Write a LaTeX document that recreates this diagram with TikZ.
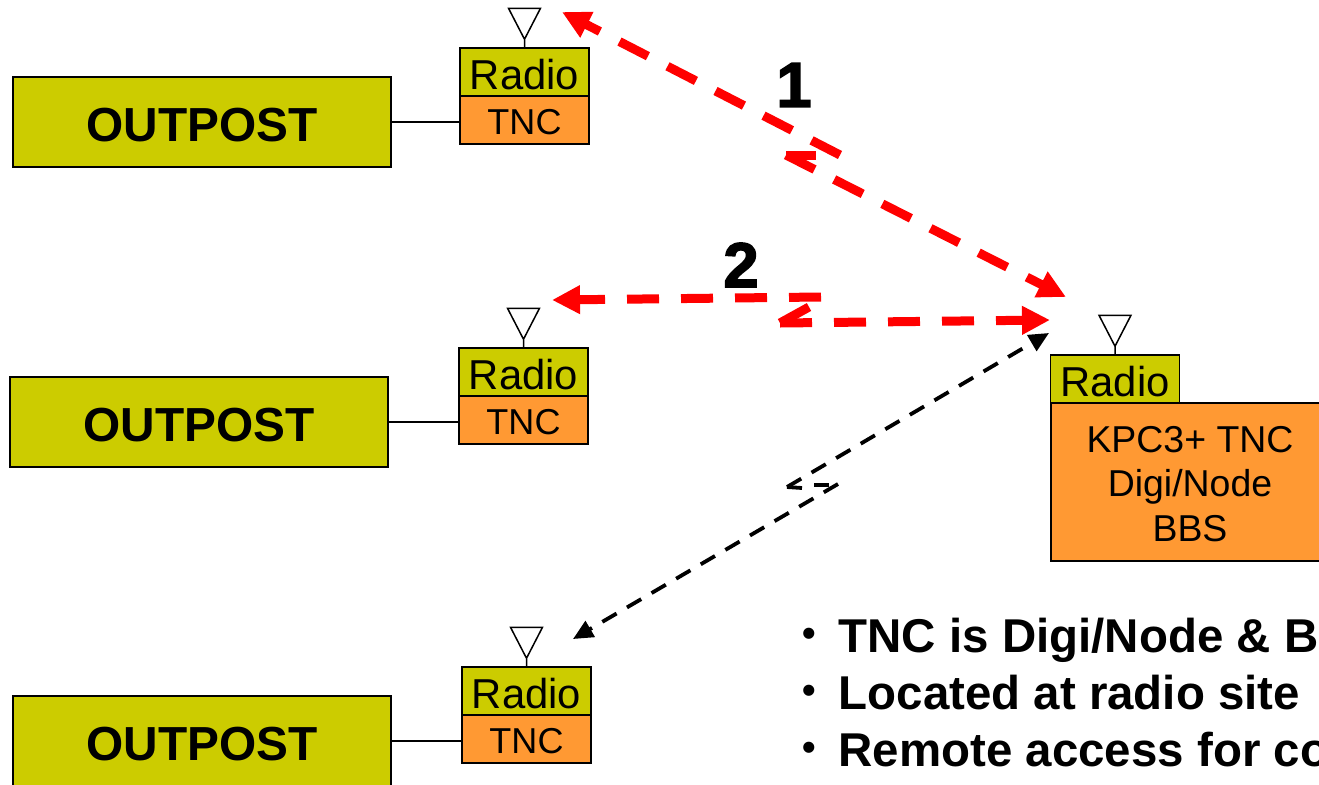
\documentclass[tikz,border=0pt]{standalone}
\usepackage{fontspec}
\setmainfont{Liberation Sans}
\newfontfamily\heavyfont[FakeBold=2.5]{Liberation Sans Bold}
\usetikzlibrary{arrows.meta}
\definecolor{radiofill}{HTML}{CCCC00}
\definecolor{tncfill}{HTML}{FF9933}
\def\antenna(#1){\draw[line width=0.15mm] (#1.north) -- ++(0, 0.08) -- ++(-0.16, 0.31) -- ++(0.32, 0) -- ++(-0.16, -0.31);}
\tikzset{
	outpostbox/.style={draw, line width=0.15mm, fill=radiofill, minimum width=3.78cm, minimum height=0.9cm, inner sep=0, text height=11pt, text depth=0pt, font=\fontsize{13.6}{16}\bfseries},
	radiobox/.style={draw, line width=0.15mm, fill=radiofill, minimum width=1.29cm, minimum height=0.48cm, inner sep=0, text height=9.8pt, text depth=0pt, font=\fontsize{11.9}{14}\selectfont},
	tncbox/.style={draw, line width=0.15mm, fill=tncfill, minimum width=1.29cm, minimum height=0.48cm, inner sep=0, text height=8.4pt, text depth=0pt, font=\fontsize{10.25}{12}\selectfont},
	stationbox/.style={draw, line width=0.15mm, fill=tncfill, minimum width=2.78cm, minimum height=1.58cm, inner sep=0},
	stationtext/.style={inner sep=0, align=center, font=\fontsize{10.65}{12.65}\selectfont},
	wire/.style={line width=0.15mm},
	redlink/.style={draw=red, line width=0.9mm, dash pattern=on 3.2mm off 2.2mm},
	redhead/.style={redlink, -{Triangle[length=2.8mm, width=2.7mm, fill=red]}},
	redarm/.style={draw=red, line width=0.9mm},
	blacklink/.style={line width=0.38mm, dash pattern=on 1.65mm off 1.2mm},
	blackhead/.style={blacklink, -{Triangle[length=2mm, width=1.8mm]}},
	blackarm/.style={line width=0.38mm},
	stepnum/.style={inner sep=0, font=\fontsize{18}{20}\heavyfont},
	notetext/.style={anchor=base west, inner sep=0, font=\fontsize{13.5}{16}\bfseries},
	notemark/.style={anchor=base west, inner sep=0, font=\fontsize{11}{13}\bfseries}
}
\begin{document}
\begin{tikzpicture}
	\useasboundingbox (0, 0) rectangle (13.19, 7.84);
	\clip (0, 0) rectangle (13.19, 7.84);

	%%%%% TOP STATION %%%%%
	\node[outpostbox] (o1) at (2.02, 6.62) {OUTPOST};
	\node[radiobox] (r1) at (5.245, 7.12) {Radio};
	\node[tncbox] (t1) at (5.245, 6.64) {TNC};
	\draw[wire] (o1.east) -- (t1.west |- o1.east);
	\antenna(r1);

	%%%%% MIDDLE STATION %%%%%
	\node[outpostbox] (o2) at (1.99, 3.62) {OUTPOST};
	\node[radiobox] (r2) at (5.235, 4.12) {Radio};
	\node[tncbox] (t2) at (5.235, 3.64) {TNC};
	\draw[wire] (o2.east) -- (t2.west |- o2.east);
	\antenna(r2);

	%%%%% BOTTOM STATION %%%%%
	\node[outpostbox] (o3) at (2.02, 0.43) {OUTPOST};
	\node[radiobox] (r3) at (5.265, 0.93) {Radio};
	\node[tncbox] (t3) at (5.265, 0.45) {TNC};
	\draw[wire] (o3.east) -- (t3.west |- o3.east);
	\antenna(r3);

	%%%%% BBS SITE %%%%%
	\node[radiobox] (r4) at (11.15, 4.05) {Radio};
	\node[stationbox] (s4) at (11.90, 3.02) {};
	\node[stationtext] (x4) at (11.90, 3.00) {KPC3+ TNC\\Digi/Node\\BBS};
	\antenna(r4);

	%%%%% PATH 1 %%%%%
	\coordinate (a1) at (8.40, 6.29);
	\coordinate (b1) at (5.62, 7.72);
	\coordinate (c1) at (7.86, 6.29);
	\coordinate (d1) at (10.66, 4.87);
	\coordinate (e1) at (8.16, 6.29);
	\draw[redhead] (a1) -- (b1);
	\draw[redhead] (c1) -- (d1);
	\draw[redarm] (c1) -- (e1);
	\node[stepnum] (n1) at (7.94, 6.99) {1};

	%%%%% PATH 2 %%%%%
	\coordinate (a2) at (8.21, 4.87);
	\coordinate (b2) at (5.52, 4.84);
	\coordinate (c2) at (7.80, 4.61);
	\coordinate (d2) at (10.50, 4.64);
	\coordinate (e2) at (8.09, 4.77);
	\draw[redhead] (a2) -- (b2);
	\draw[redhead] (c2) -- (d2);
	\draw[redarm] (c2) -- (e2);
	\node[stepnum] (n2) at (7.41, 5.19) {2};

	%%%%% PATH 3 %%%%%
	\coordinate (a3) at (8.38, 3.00);
	\coordinate (b3) at (5.73, 1.45);
	\coordinate (c3) at (7.87, 2.97);
	\coordinate (d3) at (10.49, 4.51);
	\coordinate (e3) at (8.02, 2.96);
	\coordinate (f3) at (8.14, 2.99);
	\coordinate (g3) at (8.29, 2.99);
	\draw[blackhead] (a3) -- (b3);
	\draw[blackhead] (c3) -- (d3);
	\draw[blackarm] (c3) -- (e3);
	\draw[blackarm] (f3) -- (g3);

	%%%%% NOTES %%%%%
	\node[notemark] (b5) at (8.02, 1.38) {\textbullet};
	\node[notetext] (l5) at (8.38, 1.32) {TNC is Digi/Node \& B};
	\node[notemark] (b6) at (8.02, 0.81) {\textbullet};
	\node[notetext] (l6) at (8.38, 0.75) {Located at radio site};
	\node[notemark] (b7) at (8.02, 0.24) {\textbullet};
	\node[notetext] (l7) at (8.38, 0.18) {Remote access for co};
\end{tikzpicture}
\end{document}
